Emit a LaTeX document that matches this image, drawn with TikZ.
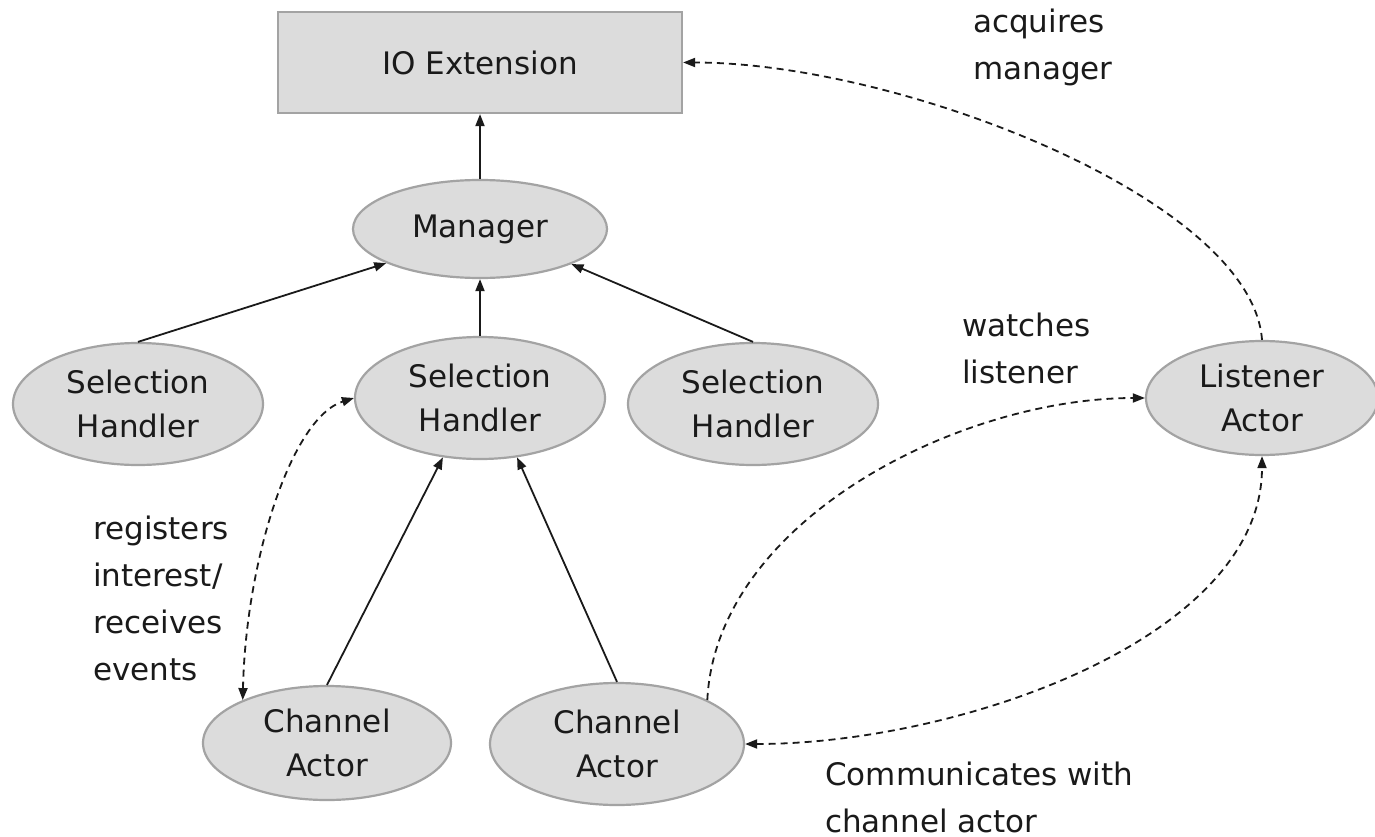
\documentclass[tikz,border=0pt]{standalone}
\usepackage{fontspec}
\setmainfont{DejaVu Sans}
\usetikzlibrary{shapes.geometric,arrows.meta}
\definecolor{fillgray}{HTML}{DCDCDC}
\definecolor{edgegray}{HTML}{A3A3A3}
\definecolor{inkgray}{HTML}{1A1A1A}
\begin{document}
\begin{tikzpicture}[x=1pt,y=-1pt,
  nodefont/.style={font=\fontsize{31}{44}\selectfont},
  labelfont/.style={font=\fontsize{31}{47}\selectfont},
  boxnode/.style={draw=edgegray,fill=fillgray,line width=2.2pt,rectangle,inner sep=0pt,nodefont,text=inkgray},
  ellnode/.style={draw=edgegray,fill=fillgray,line width=2.2pt,ellipse,inner sep=0pt,align=center,nodefont,text=inkgray},
  lbl/.style={align=left,anchor=west,inner sep=0pt,labelfont,text=inkgray},
  tip/.tip={Triangle[length=12pt,width=9pt]},
  arr/.style={-tip,line width=1.8pt,draw=inkgray},
  dsh/.style={line width=1.8pt,draw=inkgray,dash pattern=on 7pt off 5pt},
]
\useasboundingbox (0,0) rectangle (1375,837);

% nodes
\node[boxnode,minimum width=404pt,minimum height=101pt] (io) at (480,62.5) {IO Extension};
\node[ellnode,minimum width=254pt,minimum height=98pt] (man) at (480,229) {Manager};
\node[ellnode,minimum width=250pt,minimum height=122pt] (lsh) at (138,404) {Selection\\Handler};
\node[ellnode,minimum width=250pt,minimum height=122pt] (msh) at (480,398) {Selection\\Handler};
\node[ellnode,minimum width=250pt,minimum height=122pt] (rsh) at (753,404) {Selection\\Handler};
\node[ellnode,minimum width=232pt,minimum height=114pt] (lis) at (1262,398) {Listener\\Actor};
\node[ellnode,minimum width=248pt,minimum height=114pt] (lca) at (327,743) {Channel\\Actor};
\node[ellnode,minimum width=254pt,minimum height=122pt] (rca) at (617,744) {Channel\\Actor};

% labels
\node[lbl] (lacq) at (973,47) {acquires\\manager};
\node[lbl] (lwat) at (962,348) {watches\\listener};
\node[lbl] (lreg) at (93,598) {registers\\interest/\\receives\\events};
\node[lbl] (lcom) at (825,797) {Communicates with\\channel actor};

% solid arrows
\draw[arr] (man.north) -- (io.south);
\draw[arr] (lsh.north) -- (man.200.8);
\draw[arr] (msh.north) -- (man.south);
\draw[arr] (rsh.north) -- (man.339.4);
\draw[arr] (lca.north) -- (msh.238);
\draw[arr] (rca.north) -- (msh.302);

% dashed curves
\draw[dsh,tip-tip] (lca.153) .. controls +(3,-138) and +(-63,20) .. (msh.west);
\draw[dsh,-tip] (rca.26) .. controls +(9,-180) and +(-185,0) .. (lis.west);
\draw[dsh,tip-tip] (rca.east) .. controls +(212,0) and +(0,183) .. (lis.south);
\draw[dsh,-tip] (lis.north) .. controls +(-10,-140) and +(217,0) .. (io.east);
\end{tikzpicture}
\end{document}
